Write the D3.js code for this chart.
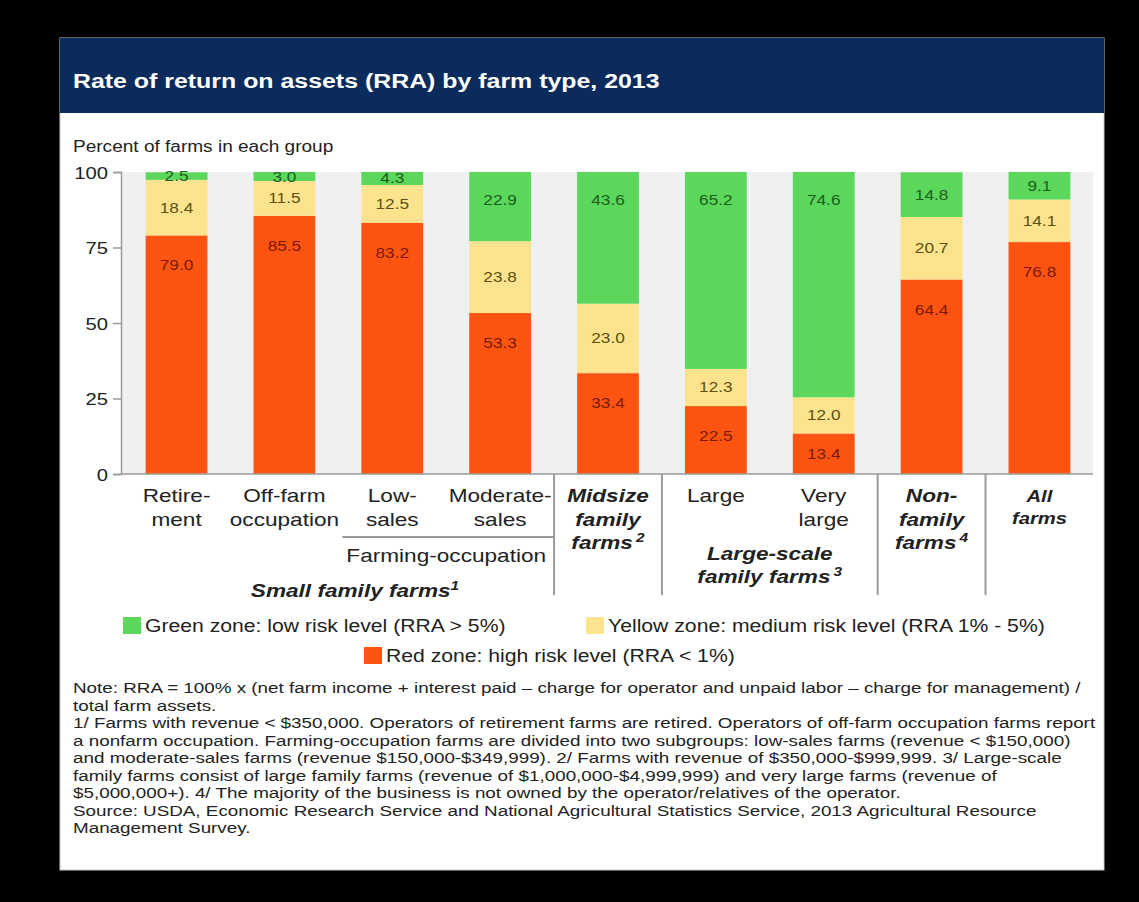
<!DOCTYPE html>
<html>
<head>
<meta charset="utf-8">
<script src="https://cdn.jsdelivr.net/npm/d3@7"></script>
<style>
  html, body { margin: 0; padding: 0; background: #000; }
  svg { display: block; }
  text { font-family: "Liberation Sans", Arial, Helvetica, sans-serif; }
</style>
</head>
<body>
<svg id="chart" width="1139" height="902"></svg>
<script>
// ---------- DATA ----------
const categories = ["Retirement", "Off-farm occupation", "Low-sales", "Moderate-sales",
  "Midsize family farms", "Large", "Very large", "Nonfamily farms", "All farms"];
const redZone    = [79.0, 85.5, 83.2, 53.3, 33.4, 22.5, 13.4, 64.4, 76.8];
const yellowZone = [18.4, 11.5, 12.5, 23.8, 23.0, 12.3, 12.0, 20.7, 14.1];
const greenZone  = [2.5, 3.0, 4.3, 22.9, 43.6, 65.2, 74.6, 14.8, 9.1];
const yTicks = [0, 25, 50, 75, 100];
const seriesKeys = ["red", "yellow", "green"];
const legendLabels = {
  green: "Green zone: low risk level (RRA > 5%)",
  yellow: "Yellow zone: medium risk level (RRA 1% - 5%)",
  red: "Red zone: high risk level (RRA < 1%)"
};
// category tick label lines (plain / bold-italic)
const catLabelLines = [
  ["Retire-", "ment"], ["Off-farm", "occupation"], ["Low-", "sales"], ["Moderate-", "sales"],
  ["Midsize", "family", "farms"], ["Large"], ["Very", "large"], ["Non-", "family", "farms"], ["All", "farms"]
];
const catBoldItalic = [false, false, false, false, true, false, false, true, true];
const catSup = ["", "", "", "", "2", "", "", "4", ""];
const titleText = "Rate of return on assets (RRA) by farm type, 2013";
const yAxisTitle = "Percent of farms in each group";
const noteLines = [
  "Note: RRA = 100% x (net farm income + interest paid \u2013 charge for operator and unpaid labor \u2013 charge for management) /",
  "total farm assets.",
  "1/ Farms with revenue < $350,000. Operators of retirement farms are retired. Operators of off-farm occupation farms report",
  "a nonfarm occupation. Farming-occupation farms are divided into two subgroups: low-sales farms (revenue < $150,000)",
  "and moderate-sales farms (revenue $150,000-$349,999). 2/ Farms with revenue of $350,000-$999,999.  3/ Large-scale",
  "family farms consist of large family farms (revenue of $1,000,000-$4,999,999) and very large farms (revenue of",
  "$5,000,000+). 4/ The majority of the business is not owned by the operator/relatives of the operator.",
  "Source: USDA, Economic Research Service and National Agricultural Statistics Service, 2013 Agricultural Resource",
  "Management Survey."
];

// ---------- STYLE ----------
const SX = 1.19; // horizontal stretch of glyphs in reference
const colors = { red: "#fd5412", yellow: "#fde38e", green: "#5bd75b" };
const labelColors = { red: "#7a1a00", yellow: "#5c5012", green: "#1d5e1d" };
const textColor = "#222";

const svg = d3.select("#chart");

// panel
svg.append("rect").attr("x", 60).attr("y", 38).attr("width", 1044).attr("height", 832)
  .attr("fill", "#fff").attr("stroke", "#c8c8c8");
svg.append("rect").attr("x", 60).attr("y", 38).attr("width", 1044).attr("height", 75)
  .attr("fill", "#0b2b5c");

function T(sel, x, y, s, o = {}) {
  const t = sel.append("text")
    .attr("transform", `translate(${x},${y}) scale(${o.sx || SX},1)`)
    .attr("text-anchor", o.anchor || "start")
    .attr("font-size", o.size || 16)
    .attr("fill", o.fill || textColor);
  if (o.weight) t.attr("font-weight", o.weight);
  if (o.italic) t.attr("font-style", "italic");
  if (o.baseline) t.attr("dominant-baseline", o.baseline);
  t.text(s);
  return t;
}

T(svg, 73, 88, titleText, { size: 20, weight: "bold", fill: "#fff", sx: 1.245 });
T(svg, 73, 152, yAxisTitle, { size: 16 });

// ---------- SCALES ----------
const x = d3.scaleBand().domain(categories).range([123, 1093]).paddingInner(0.427).paddingOuter(0.21);
const y = d3.scaleLinear().domain([0, 100]).range([474, 172]);
const xc = i => x(categories[i]) + x.bandwidth() / 2;

// plot background
svg.append("rect").attr("x", 121).attr("y", y(100)).attr("width", 1093 - 121)
  .attr("height", y(0) - y(100)).attr("fill", "#eef0f2");

// stacked data
const table = categories.map((c, i) => ({ cat: c, red: redZone[i], yellow: yellowZone[i], green: greenZone[i] }));
const stacked = d3.stack().keys(seriesKeys)(table);

const gBars = svg.append("g");
stacked.forEach(layer => {
  gBars.append("g").attr("fill", colors[layer.key])
    .selectAll("rect").data(layer).join("rect")
    .attr("x", d => x(d.data.cat))
    .attr("width", x.bandwidth())
    .attr("y", d => y(d[1]))
    .attr("height", d => y(d[0]) - y(d[1]));
});

// value labels
const gLab = svg.append("g");
stacked.forEach(layer => {
  layer.forEach(d => {
    const top = y(d[1]), bot = y(d[0]);
    const center = (top + bot) / 2;
    let ly = center;
    if (layer.key === "red") ly = Math.min(center, top + 30);
    if (layer.key === "green") ly = Math.min(center, top + 28);
    T(gLab, x(d.data.cat) + x.bandwidth() / 2, ly, d.data[layer.key].toFixed(1),
      { size: 14.5, anchor: "middle", baseline: "central", fill: labelColors[layer.key] });
  });
});

// ---------- AXES ----------
const yAxis = svg.append("g").attr("transform", "translate(121,0)")
  .call(d3.axisLeft(y).tickValues(yTicks).tickSize(8).tickPadding(0));
yAxis.select(".domain").attr("stroke", "#9a9a9a").attr("stroke-width", 1.5);
yAxis.selectAll(".tick line").attr("stroke", "#9a9a9a").attr("stroke-width", 1.5);
yAxis.selectAll(".tick text")
  .attr("font-size", 17).attr("fill", textColor)
  .attr("x", null).attr("dy", "0.36em")
  .attr("transform", `translate(-13,0) scale(${SX},1)`)
  .attr("font-family", "Liberation Sans, Arial, sans-serif");

const xAxis = svg.append("g").attr("transform", `translate(0,${y(0)})`)
  .call(d3.axisBottom(x).tickSize(0).tickFormat(""));
xAxis.select(".domain").attr("stroke", "#9a9a9a").attr("stroke-width", 1.5)
  .attr("d", `M121,0H1093`);

// category labels
const gCat = svg.append("g");
const lineH = 23.5;
catLabelLines.forEach((lines, i) => {
  const bi = catBoldItalic[i];
  const isAll = i === categories.length - 1;
  lines.forEach((ln, k) => {
    const t = T(gCat, xc(i), 502 + k * (isAll ? 22 : lineH), ln, {
      size: isAll ? 17 : 19, anchor: "middle",
      weight: bi ? "bold" : null, italic: bi
    });
    if (k === lines.length - 1 && catSup[i]) {
      t.append("tspan").attr("dy", -7).attr("font-size", 13).text("\u2009" + catSup[i]);
    }
  });
});

// group dividers
const step = x.step();
const boundary = i => x(categories[i]) - (step - x.bandwidth()) / 2;
const gDiv = svg.append("g").attr("stroke", "#9a9a9a").attr("stroke-width", 2);
[4, 5, 7, 8].forEach(i => {
  gDiv.append("line").attr("x1", boundary(i)).attr("x2", boundary(i))
    .attr("y1", y(0)).attr("y2", 595);
});
gDiv.append("line").attr("x1", x(categories[2]) - 19).attr("x2", boundary(4))
  .attr("y1", 537).attr("y2", 537);

// group titles
T(gCat, (xc(2) + xc(3)) / 2, 562, "Farming-occupation", { size: 19, anchor: "middle" });
const sm = T(gCat, 355, 597, "Small family farms", { size: 19, anchor: "middle", weight: "bold", italic: true });
sm.append("tspan").attr("dy", -7).attr("font-size", 13).text("1");
T(gCat, (xc(5) + xc(6)) / 2, 560, "Large-scale", { size: 19, anchor: "middle", weight: "bold", italic: true });
const ls2 = T(gCat, (xc(5) + xc(6)) / 2, 583, "family farms", { size: 19, anchor: "middle", weight: "bold", italic: true });
ls2.append("tspan").attr("dy", -7).attr("font-size", 13).text("\u20093");

// ---------- LEGEND ----------
const legendPos = {
  green: [123, 617],
  yellow: [586, 617],
  red: [364, 647]
};
const gLeg = svg.append("g");
["green", "yellow", "red"].forEach(k => {
  const [lx, ly] = legendPos[k];
  gLeg.append("rect").attr("x", lx).attr("y", ly).attr("width", 18).attr("height", 17).attr("fill", colors[k]);
  T(gLeg, lx + 22, ly + 15, legendLabels[k], { size: 17.8 });
});

// ---------- NOTES ----------
const gNote = svg.append("g");
noteLines.forEach((ln, i) => {
  T(gNote, 73, 693 + i * 17.5, ln, { size: 15, sx: 1.255 });
});
</script>
</body>
</html>
